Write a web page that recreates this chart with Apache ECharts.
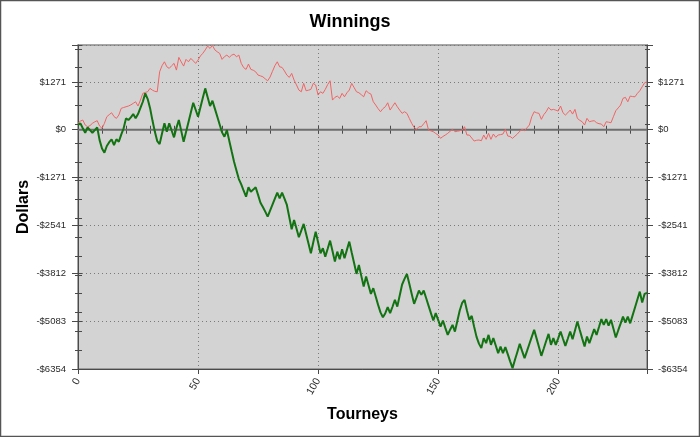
<!DOCTYPE html>
<html>
<head>
<meta charset="utf-8">
<script src="https://cdn.jsdelivr.net/npm/echarts@6/dist/echarts.min.js"></script>
<style>
html,body{margin:0;padding:0;background:#fff;}
#c{width:700px;height:437px;}
</style>
</head>
<body>
<div id="c"></div>
<script>
// ---- data ----
const titleText = 'Winnings';
const xName = 'Tourneys';
const yName = 'Dollars';
const xMin = 0, xMax = 237, xStep = 50, xMinorStep = 10;
const xTickLabels = ['0', '50', '100', '150', '200'];
const yMin = -6353.5, yMax = 2250, yStep = 1270.7, yMinorStep = 500;
const yTickLabels = ['-$6354', '-$5083', '-$3812', '-$2541', '-$1271', '$0', '$1271'];

const greenValues = [
125,170,40,-80,64,-10,-80,-10,64,-276,
-500,-610,-432,-330,-255,-406,-255,-318,-130,37,
302,257,330,416,302,416,580,743,966,820,
580,250,-50,-300,-379,-100,170,-53,170,-20,
-202,50,257,-30,-318,-60,200,460,716,530,
345,600,850,1098,860,629,769,560,350,140,
-70,-186,-8,-290,-570,-849,-1080,-1310,-1450,-1620,
-1777,-1528,-1645,-1590,-1528,-1730,-1937,-2050,-2175,-2308,
-2150,-1990,-1830,-1671,-1820,-1671,-1830,-1998,-2320,-2642,
-2396,-2620,-2855,-2680,-2502,-2760,-3020,-3279,-2990,-2706,
-2990,-3279,-3146,-3369,-3160,-2945,-3220,-3502,-3237,-3438,
-3173,-3412,-3190,-2971,-3260,-3540,-3828,-3590,-3880,-4165,
-3900,-4130,-4359,-4208,-4430,-4651,-4850,-4980,-4871,-4712,
-4871,-4700,-4518,-4696,-4400,-4110,-3960,-3828,-4090,-4360,
-4624,-4450,-4271,-4385,-4271,-4470,-4670,-4870,-5067,-4871,
-5050,-5226,-5067,-5260,-5447,-5310,-5181,-5359,-5080,-4800,
-4600,-4518,-4800,-5049,-4943,-5230,-5500,-5680,-5799,-5534,
-5667,-5447,-5712,-5534,-5730,-5932,-5757,-5932,-5773,-5960,
-6150,-6330,-6110,-5900,-5685,-5880,-6065,-5880,-5690,-5500,
-5314,-5540,-5770,-6004,-5810,-5610,-5420,-5712,-5534,-5712,
-5540,-5359,-5550,-5738,-5550,-5359,-5561,-5330,-5094,-5320,
-5540,-5757,-5492,-5667,-5480,-5295,-5447,-5240,-5030,-5181,
-5030,-5200,-5046,-5280,-5518,-5330,-5150,-4961,-5120,-4961,
-5140,-4930,-4720,-4510,-4298,-4590,-4359,-4330
];

const redValues = [
170,230,257,125,80,110,170,210,240,98,
37,170,345,400,451,350,302,390,568,590,
610,629,660,700,743,629,788,966,990,1008,
1098,1050,1020,1008,1539,1700,1804,1671,1629,1700,
1762,1584,1921,1800,1690,1868,1804,1894,1830,1762,
1850,1960,2030,2120,2221,2159,2240,2120,2069,2027,
1868,1940,1982,1921,1980,2008,1937,1982,1762,1650,
1602,1743,1602,1580,1539,1451,1430,1406,1350,1300,
1400,1550,1700,1804,1671,1655,1560,1450,1390,1496,
1319,1190,1053,1008,1231,1035,1050,1072,1231,1186,
921,1008,966,1072,1200,1300,788,860,894,833,
966,875,980,1053,1231,1120,1008,982,930,875,
1035,980,947,743,655,560,478,560,610,716,
523,620,716,610,520,435,478,435,300,170,
60,11,80,80,160,240,-8,-30,-53,-100,
-141,-228,-180,-140,-96,-40,11,-53,-40,-27,
-8,80,-141,-141,-220,-300,-280,-273,-292,-141,
-255,-96,-255,-114,-202,-141,-130,-114,11,-167,
-180,-228,-170,-114,-40,11,-27,50,125,345,
478,450,435,276,400,478,594,523,541,520,
496,629,451,390,450,523,416,541,302,250,
212,125,302,212,230,240,186,160,151,80,
212,200,186,345,504,580,655,833,860,743,
894,880,875,966,1035,1141,1247,1273
];
const zeroLineValue = 0;

// ---- chart ----
const font = '"Liberation Sans", Arial, sans-serif';
const axisColor = '#4a4a4a';
const labelColor = '#2a2a2a';

function xLabel(v) {
  const k = Math.round((v - xMin) / xStep);
  if (Math.abs(v - (xMin + k * xStep)) < 1e-6 && k >= 0 && k < xTickLabels.length) return xTickLabels[k];
  return '';
}
function yLabel(v) {
  const k = Math.round((v - yMin) / yStep);
  if (Math.abs(v - (yMin + k * yStep)) < 0.5 && k >= 0 && k < yTickLabels.length) return yTickLabels[k];
  return '';
}

const toPairs = arr => arr.map((v, i) => [i, v]);

function xAx(opts) {
  return Object.assign({
    type: 'value', min: xMin, max: xMax, gridIndex: 0,
    axisLine: { show: false }, axisLabel: { show: false },
    splitLine: { show: false }, axisTick: { show: false }
  }, opts);
}
function yAx(opts) {
  return Object.assign({
    type: 'value', min: yMin, max: yMax, gridIndex: 0,
    axisLine: { show: false }, axisLabel: { show: false },
    splitLine: { show: false }, axisTick: { show: false }
  }, opts);
}

const chart = echarts.init(document.getElementById('c'), null, { renderer: 'canvas' });
chart.setOption({
  animation: false,
  backgroundColor: '#ffffff',
  title: {
    text: titleText, left: 'center', top: 8,
    textStyle: { fontFamily: font, fontSize: 18, fontWeight: 'bold', color: '#000' }
  },
  graphic: [{
    type: 'rect', shape: { x: 0.5, y: 0.5, width: 699, height: 436 },
    style: { fill: 'none', stroke: '#555', lineWidth: 1.5 }, silent: true, z: 100
  }],
  grid: {
    left: 78, right: 53, top: 45, bottom: 68, show: true,
    backgroundColor: '#d3d3d3', borderColor: '#8a8a8a', borderWidth: 1.5
  },
  xAxis: [
    xAx({
      position: 'bottom', interval: xStep,
      name: xName, nameLocation: 'middle', nameGap: 38,
      nameTextStyle: { fontFamily: font, fontSize: 16, fontWeight: 'bold', color: '#000' },
      axisLine: { show: true, onZero: false, lineStyle: { color: axisColor, width: 1 } },
      axisTick: { show: true, inside: false, length: 5, lineStyle: { color: axisColor } },
      axisLabel: { show: true, rotate: 60, margin: 10, formatter: xLabel, fontFamily: font, fontSize: 10.5, color: labelColor },
      splitLine: { show: true, lineStyle: { color: '#7a7a7a', type: [1, 3], width: 1 } }
    }),
    xAx({ position: 'bottom', interval: xMinorStep, axisTick: { show: true, inside: true, length: 4, lineStyle: { color: axisColor } } }),
    xAx({ position: 'bottom', interval: xMinorStep, axisTick: { show: true, inside: false, length: 3, lineStyle: { color: axisColor } } }),
    xAx({ position: 'top', interval: xMinorStep, axisTick: { show: true, inside: true, length: 4, lineStyle: { color: axisColor } } })
  ],
  yAxis: [
    yAx({
      position: 'left', interval: yStep,
      name: yName, nameLocation: 'middle', nameGap: 46, nameRotate: 90, nameMoveOverlap: false,
      nameTextStyle: { fontFamily: font, fontSize: 16, fontWeight: 'bold', color: '#000' },
      axisLine: { show: true, onZero: false, lineStyle: { color: axisColor, width: 1 } },
      axisTick: { show: true, inside: false, length: 6, lineStyle: { color: axisColor } },
      axisLabel: { show: true, margin: 12, formatter: yLabel, fontFamily: font, fontSize: 9.5, color: labelColor },
      splitLine: { show: true, lineStyle: { color: '#7a7a7a', type: [1, 3], width: 1 } }
    }),
    yAx({ position: 'left', interval: yStep, axisTick: { show: true, inside: true, length: 4, lineStyle: { color: axisColor } } }),
    yAx({ position: 'left', interval: yMinorStep, axisTick: { show: true, inside: false, length: 3, lineStyle: { color: axisColor } } }),
    yAx({ position: 'left', interval: yMinorStep, axisTick: { show: true, inside: true, length: 4, lineStyle: { color: axisColor } } }),
    yAx({
      position: 'right', interval: yStep,
      axisLine: { show: true, onZero: false, lineStyle: { color: axisColor, width: 1 } },
      axisTick: { show: true, inside: false, length: 6, lineStyle: { color: axisColor } },
      axisLabel: { show: true, margin: 11, formatter: yLabel, fontFamily: font, fontSize: 9.5, color: labelColor }
    }),
    yAx({ position: 'right', interval: yStep, axisTick: { show: true, inside: true, length: 3, lineStyle: { color: axisColor } } }),
    yAx({ position: 'right', interval: yMinorStep, axisTick: { show: true, inside: false, length: 3, lineStyle: { color: axisColor } } }),
    yAx({ position: 'right', interval: yMinorStep, axisTick: { show: true, inside: true, length: 2, lineStyle: { color: axisColor } } })
  ],
  series: [
    {
      name: 'zero', type: 'line', xAxisIndex: 0, yAxisIndex: 0,
      data: [[xMin, zeroLineValue], [xMax, zeroLineValue]],
      showSymbol: false, symbol: 'none', silent: true,
      lineStyle: { color: '#6e6e6e', width: 2 }
    },
    {
      name: 'red', type: 'line', xAxisIndex: 0, yAxisIndex: 0,
      data: toPairs(redValues), showSymbol: false, symbol: 'none',
      lineStyle: { color: '#f06464', width: 1 }
    },
    {
      name: 'green', type: 'line', xAxisIndex: 0, yAxisIndex: 0,
      data: toPairs(greenValues), showSymbol: false, symbol: 'none',
      lineStyle: { color: '#137313', width: 2 }
    }
  ]
});
</script>
</body>
</html>
